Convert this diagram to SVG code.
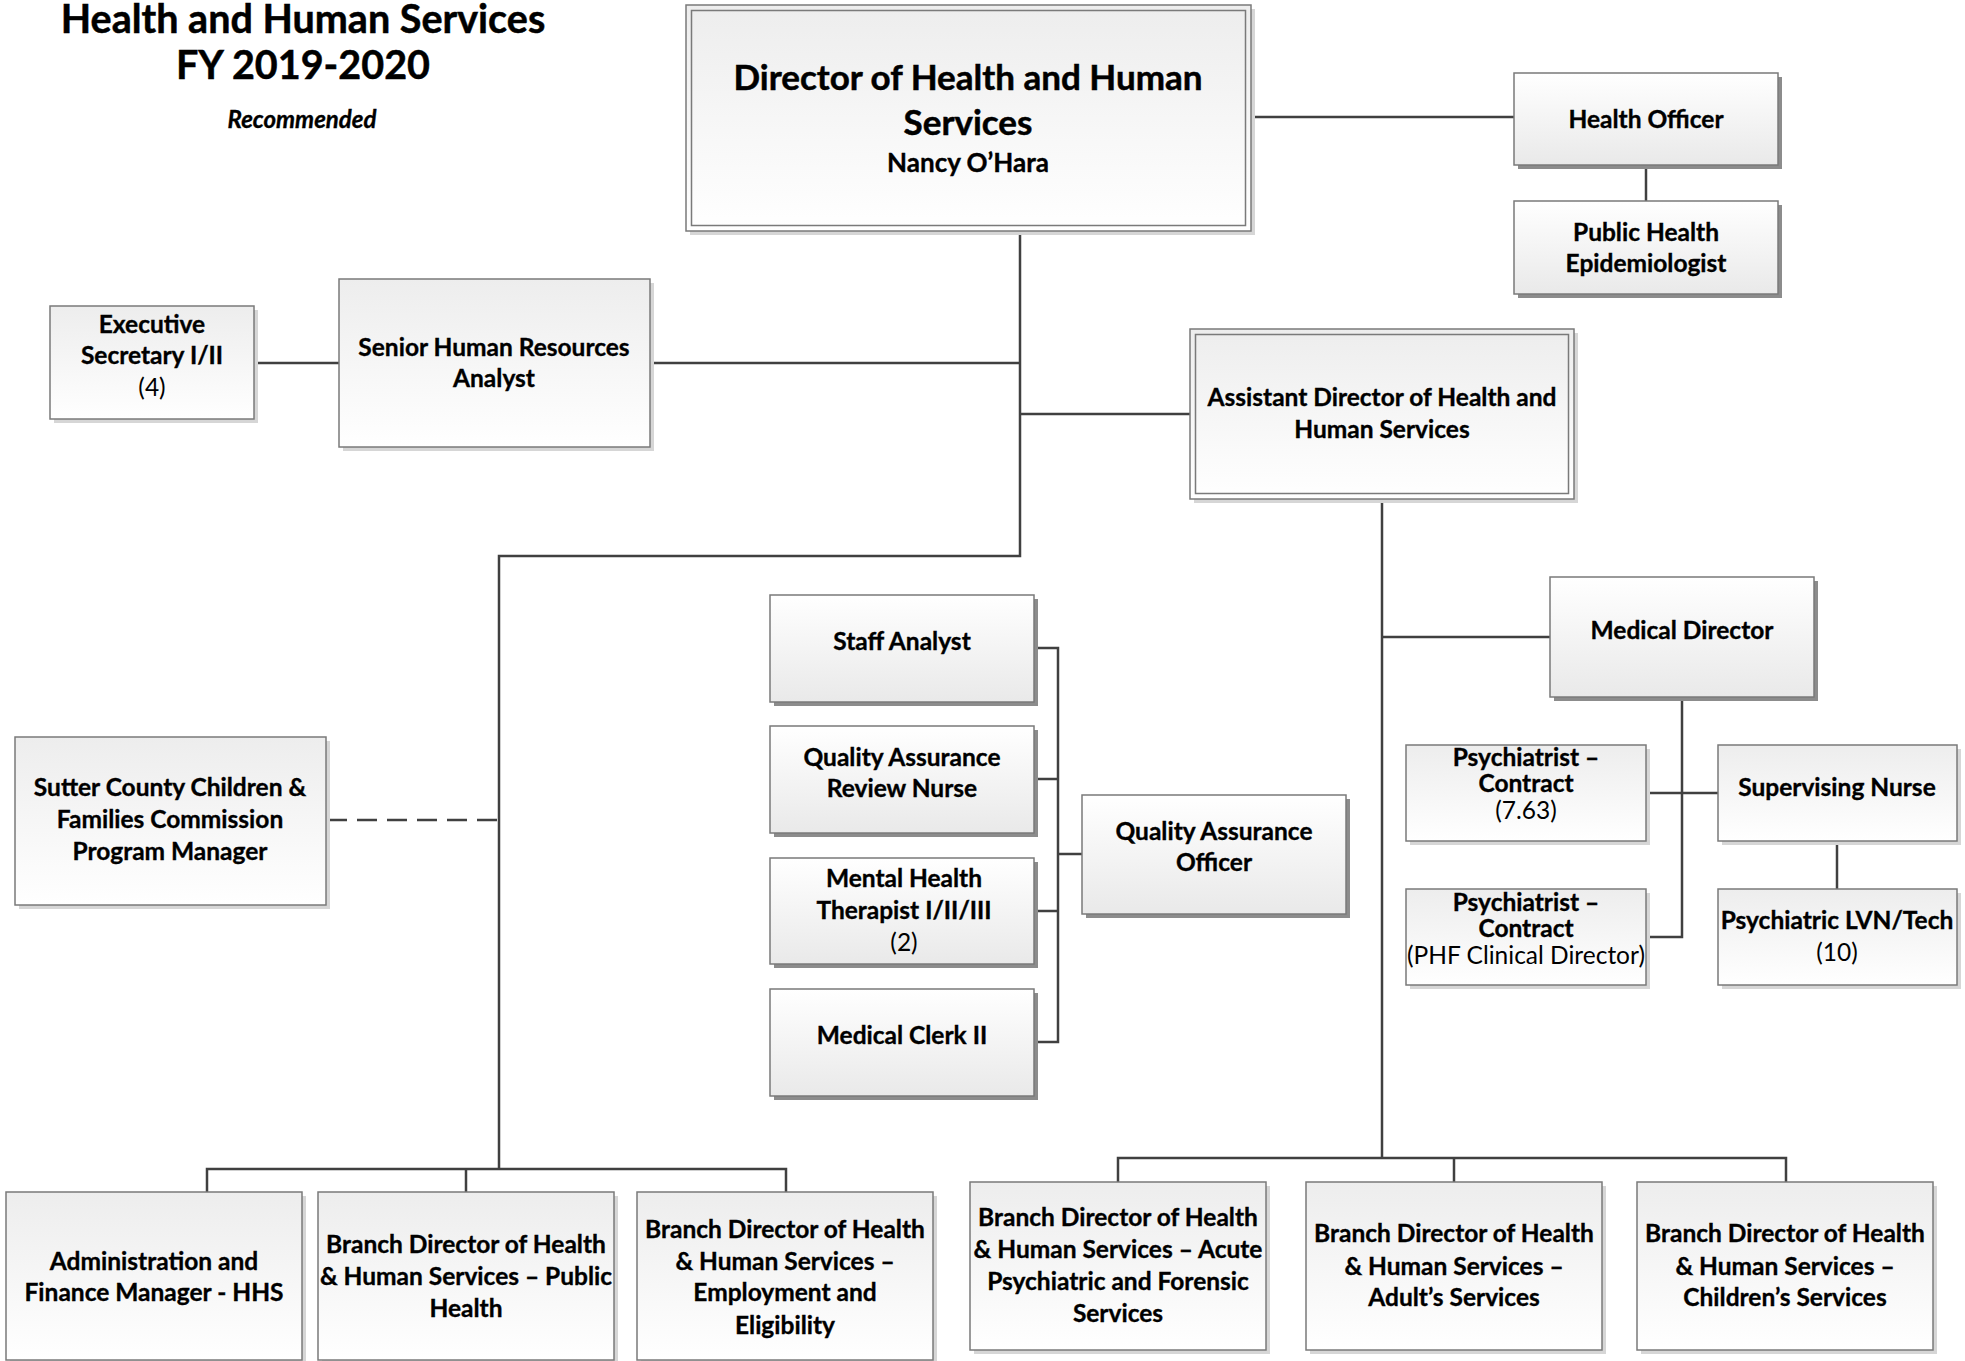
<svg xmlns="http://www.w3.org/2000/svg" width="1965" height="1361" viewBox="0 0 1965 1361">
<defs>
<linearGradient id="gd" x1="0" y1="0" x2="0" y2="1"><stop offset="0" stop-color="#ededed"/><stop offset="1" stop-color="#ffffff"/></linearGradient>
<linearGradient id="gu" x1="0" y1="0" x2="0" y2="1"><stop offset="0" stop-color="#ffffff"/><stop offset="1" stop-color="#e9e9e9"/></linearGradient>
<style>
.bx{stroke:#7a7a7a;stroke-width:1.5}
.d{fill:url(#gd)}
.u{fill:url(#gu)}
.sd{fill:#8c8c8c}
.sl{fill:#d6d6d6}
.in{fill:none;stroke:#7a7a7a;stroke-width:1.5}
text{font-family:Lato,"Liberation Sans",sans-serif;font-weight:bold;font-size:24.5px;fill:#000;text-anchor:middle;stroke:#000;stroke-width:0.35px}
.r{font-weight:normal;stroke:none}
.t{font-size:39.5px;stroke-width:0.5px}
.big{font-size:35px;stroke-width:0.5px}
.med{font-size:26px}
.it{font-style:italic;font-size:24px}
.c{fill:none;stroke:#404040;stroke-width:2.5}
.dash{stroke-dasharray:20 10}
</style>
</defs>
<rect width="1965" height="1361" fill="#fff"/>
<g id="title">
<text class="t" x="303" y="33">Health and Human Services</text>
<text class="t" x="303" y="79">FY 2019-2020</text>
<text class="it" x="302" y="128">Recommended</text>
</g>
<g id="connectors">
<path class="c" d="M1251,117H1514"/>
<path class="c" d="M1646,165V201"/>
<path class="c" d="M1020,231V556H499V1169"/>
<path class="c" d="M650,363H1020"/>
<path class="c" d="M254,363H339"/>
<path class="c" d="M1020,414H1190"/>
<path class="c dash" d="M327,820H499"/>
<path class="c" d="M207,1192V1169H786V1192M466,1169V1192"/>
<path class="c" d="M1382,499V1158"/>
<path class="c" d="M1382,637H1550"/>
<path class="c" d="M1118,1182V1158H1786V1182M1454,1158V1182"/>
<path class="c" d="M1682,697V937H1646"/>
<path class="c" d="M1646,793H1718"/>
<path class="c" d="M1837,841V889"/>
<path class="c" d="M1034,648H1058V1042H1034M1034,779H1058M1034,911H1058M1058,854H1082"/>
</g>
<g id="director">
<rect class="sl" x="690" y="9" width="565" height="226"/>
<rect class="bx d" x="686" y="5" width="565" height="226"/>
<rect class="in" x="691.5" y="10.5" width="554" height="215"/>
<text class="big" x="968" y="90">Director of Health and Human</text>
<text class="big" x="968" y="135">Services</text>
<text class="med" x="968" y="172">Nancy O’Hara</text>
</g>
<g id="health-officer">
<rect class="sd" x="1518" y="77" width="264" height="92"/>
<rect class="bx u" x="1514" y="73" width="264" height="92"/>
<text x="1646" y="128">Health Officer</text>
</g>
<g id="epidemiologist">
<rect class="sd" x="1518" y="205" width="264" height="93"/>
<rect class="bx u" x="1514" y="201" width="264" height="93"/>
<text x="1646" y="241">Public Health</text>
<text x="1646" y="272">Epidemiologist</text>
</g>
<g id="exec-secretary">
<rect class="sl" x="54" y="310" width="204" height="113"/>
<rect class="bx d" x="50" y="306" width="204" height="113"/>
<text x="152" y="333">Executive</text>
<text x="152" y="364">Secretary I/II</text>
<text class="r" x="152" y="396">(4)</text>
</g>
<g id="senior-hr">
<rect class="sl" x="343" y="283" width="311" height="168"/>
<rect class="bx d" x="339" y="279" width="311" height="168"/>
<text x="494" y="356">Senior Human Resources</text>
<text x="494" y="387">Analyst</text>
</g>
<g id="assistant-director">
<rect class="sl" x="1194" y="333" width="384" height="170"/>
<rect class="bx d" x="1190" y="329" width="384" height="170"/>
<rect class="in" x="1195.5" y="334.5" width="373" height="159"/>
<text x="1382" y="406">Assistant Director of Health and</text>
<text x="1382" y="438">Human Services</text>
</g>
<g id="staff-analyst">
<rect class="sd" x="774" y="599" width="264" height="107"/>
<rect class="bx u" x="770" y="595" width="264" height="107"/>
<text x="902" y="650">Staff Analyst</text>
</g>
<g id="qa-review-nurse">
<rect class="sd" x="774" y="730" width="264" height="107"/>
<rect class="bx u" x="770" y="726" width="264" height="107"/>
<text x="902" y="766">Quality Assurance</text>
<text x="902" y="797">Review Nurse</text>
</g>
<g id="mental-health-therapist">
<rect class="sd" x="774" y="862" width="264" height="106"/>
<rect class="bx u" x="770" y="858" width="264" height="106"/>
<text x="904" y="887">Mental Health</text>
<text x="904" y="919">Therapist I/II/III</text>
<text class="r" x="904" y="951">(2)</text>
</g>
<g id="medical-clerk">
<rect class="sd" x="774" y="993" width="264" height="107"/>
<rect class="bx u" x="770" y="989" width="264" height="107"/>
<text x="902" y="1044">Medical Clerk II</text>
</g>
<g id="qa-officer">
<rect class="sd" x="1086" y="799" width="264" height="119"/>
<rect class="bx u" x="1082" y="795" width="264" height="119"/>
<text x="1214" y="840">Quality Assurance</text>
<text x="1214" y="871">Officer</text>
</g>
<g id="medical-director">
<rect class="sd" x="1554" y="581" width="264" height="120"/>
<rect class="bx u" x="1550" y="577" width="264" height="120"/>
<text x="1682" y="639">Medical Director</text>
</g>
<g id="psychiatrist-1">
<rect class="sl" x="1410" y="749" width="240" height="96"/>
<rect class="bx d" x="1406" y="745" width="240" height="96"/>
<text x="1526" y="766">Psychiatrist –</text>
<text x="1526" y="792">Contract</text>
<text class="r" x="1526" y="819">(7.63)</text>
</g>
<g id="supervising-nurse">
<rect class="sl" x="1722" y="749" width="239" height="96"/>
<rect class="bx d" x="1718" y="745" width="239" height="96"/>
<text x="1837" y="796">Supervising Nurse</text>
</g>
<g id="psychiatrist-2">
<rect class="sl" x="1410" y="893" width="240" height="96"/>
<rect class="bx d" x="1406" y="889" width="240" height="96"/>
<text x="1526" y="911">Psychiatrist –</text>
<text x="1526" y="937">Contract</text>
<text class="r" x="1526" y="964">(PHF Clinical Director)</text>
</g>
<g id="psychiatric-lvn">
<rect class="sl" x="1722" y="893" width="239" height="96"/>
<rect class="bx d" x="1718" y="889" width="239" height="96"/>
<text x="1837" y="929">Psychiatric LVN/Tech</text>
<text class="r" x="1837" y="961">(10)</text>
</g>
<g id="sutter-county">
<rect class="sl" x="19" y="741" width="311" height="168"/>
<rect class="bx d" x="15" y="737" width="311" height="168"/>
<text x="170" y="796">Sutter County Children &amp;</text>
<text x="170" y="828">Families Commission</text>
<text x="170" y="860">Program Manager</text>
</g>
<g id="admin-finance">
<rect class="sl" x="10" y="1196" width="296" height="168"/>
<rect class="bx d" x="6" y="1192" width="296" height="168"/>
<text x="154" y="1270">Administration and</text>
<text x="154" y="1301">Finance Manager - HHS</text>
</g>
<g id="branch-public-health">
<rect class="sl" x="322" y="1196" width="296" height="168"/>
<rect class="bx d" x="318" y="1192" width="296" height="168"/>
<text x="466" y="1253">Branch Director of Health</text>
<text x="466" y="1285">&amp; Human Services – Public</text>
<text x="466" y="1317">Health</text>
</g>
<g id="branch-employment">
<rect class="sl" x="641" y="1196" width="296" height="168"/>
<rect class="bx d" x="637" y="1192" width="296" height="168"/>
<text x="785" y="1238">Branch Director of Health</text>
<text x="785" y="1270">&amp; Human Services –</text>
<text x="785" y="1301">Employment and</text>
<text x="785" y="1334">Eligibility</text>
</g>
<g id="branch-acute">
<rect class="sl" x="974" y="1186" width="296" height="168"/>
<rect class="bx d" x="970" y="1182" width="296" height="168"/>
<text x="1118" y="1226">Branch Director of Health</text>
<text x="1118" y="1258">&amp; Human Services – Acute</text>
<text x="1118" y="1290">Psychiatric and Forensic</text>
<text x="1118" y="1322">Services</text>
</g>
<g id="branch-adult">
<rect class="sl" x="1310" y="1186" width="296" height="168"/>
<rect class="bx d" x="1306" y="1182" width="296" height="168"/>
<text x="1454" y="1242">Branch Director of Health</text>
<text x="1454" y="1275">&amp; Human Services –</text>
<text x="1454" y="1306">Adult’s Services</text>
</g>
<g id="branch-children">
<rect class="sl" x="1641" y="1186" width="296" height="168"/>
<rect class="bx d" x="1637" y="1182" width="296" height="168"/>
<text x="1785" y="1242">Branch Director of Health</text>
<text x="1785" y="1275">&amp; Human Services –</text>
<text x="1785" y="1306">Children’s Services</text>
</g>
</svg>
